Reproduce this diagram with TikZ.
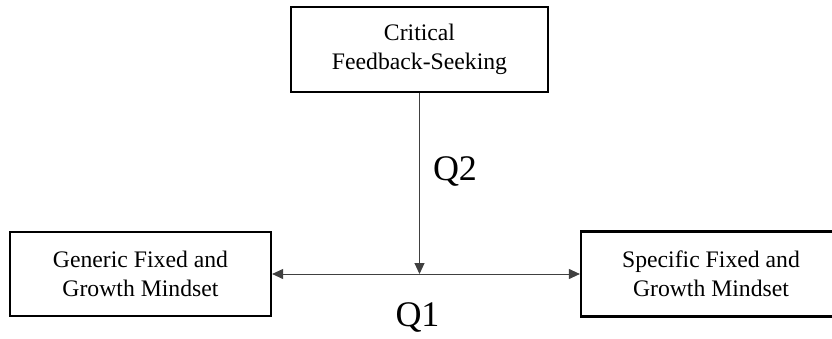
\documentclass[tikz,border=0pt]{standalone}
\usepackage{fontspec}
\setmainfont{Liberation Serif}
\usetikzlibrary{arrows.meta}
\begin{document}
\begin{tikzpicture}[x=1pt,y=-1pt,
  box/.style={draw=black, line width=2.2pt, align=center, inner sep=0pt,
    font=\fontsize{23.7}{28.5}\selectfont},
  conn/.style={draw=black!75, line width=1pt},
  tip/.style={-{Triangle[length=11pt,width=10pt]}},
  qlabel/.style={font=\fontsize{36}{40}\selectfont, inner sep=0pt}]
\useasboundingbox (0,0) rectangle (832,339);
\clip (0,0) rectangle (832,339);
\node[box, minimum width=257pt, minimum height=85pt] (crit) at (419.5,49.5) {Critical\\Feedback-Seeking};
\node[box, minimum width=261pt, minimum height=84pt] (gen) at (140.5,274) {Generic Fixed and\\Growth Mindset};
\node[box, minimum width=260pt, minimum height=85pt] (spec) at (711,274) {Specific Fixed and\\Growth Mindset};
\coordinate (mid) at (crit.south |- gen.east);
\draw[conn, {Triangle[length=11pt,width=10pt]}-{Triangle[length=11pt,width=10pt]}] (gen.east) -- (spec.west);
\draw[conn, tip] (crit.south) -- (mid);
\node[qlabel] (q2) at (455,172) {Q2};
\node[qlabel] (q1) at (417.5,317) {Q1};
\end{tikzpicture}
\end{document}
